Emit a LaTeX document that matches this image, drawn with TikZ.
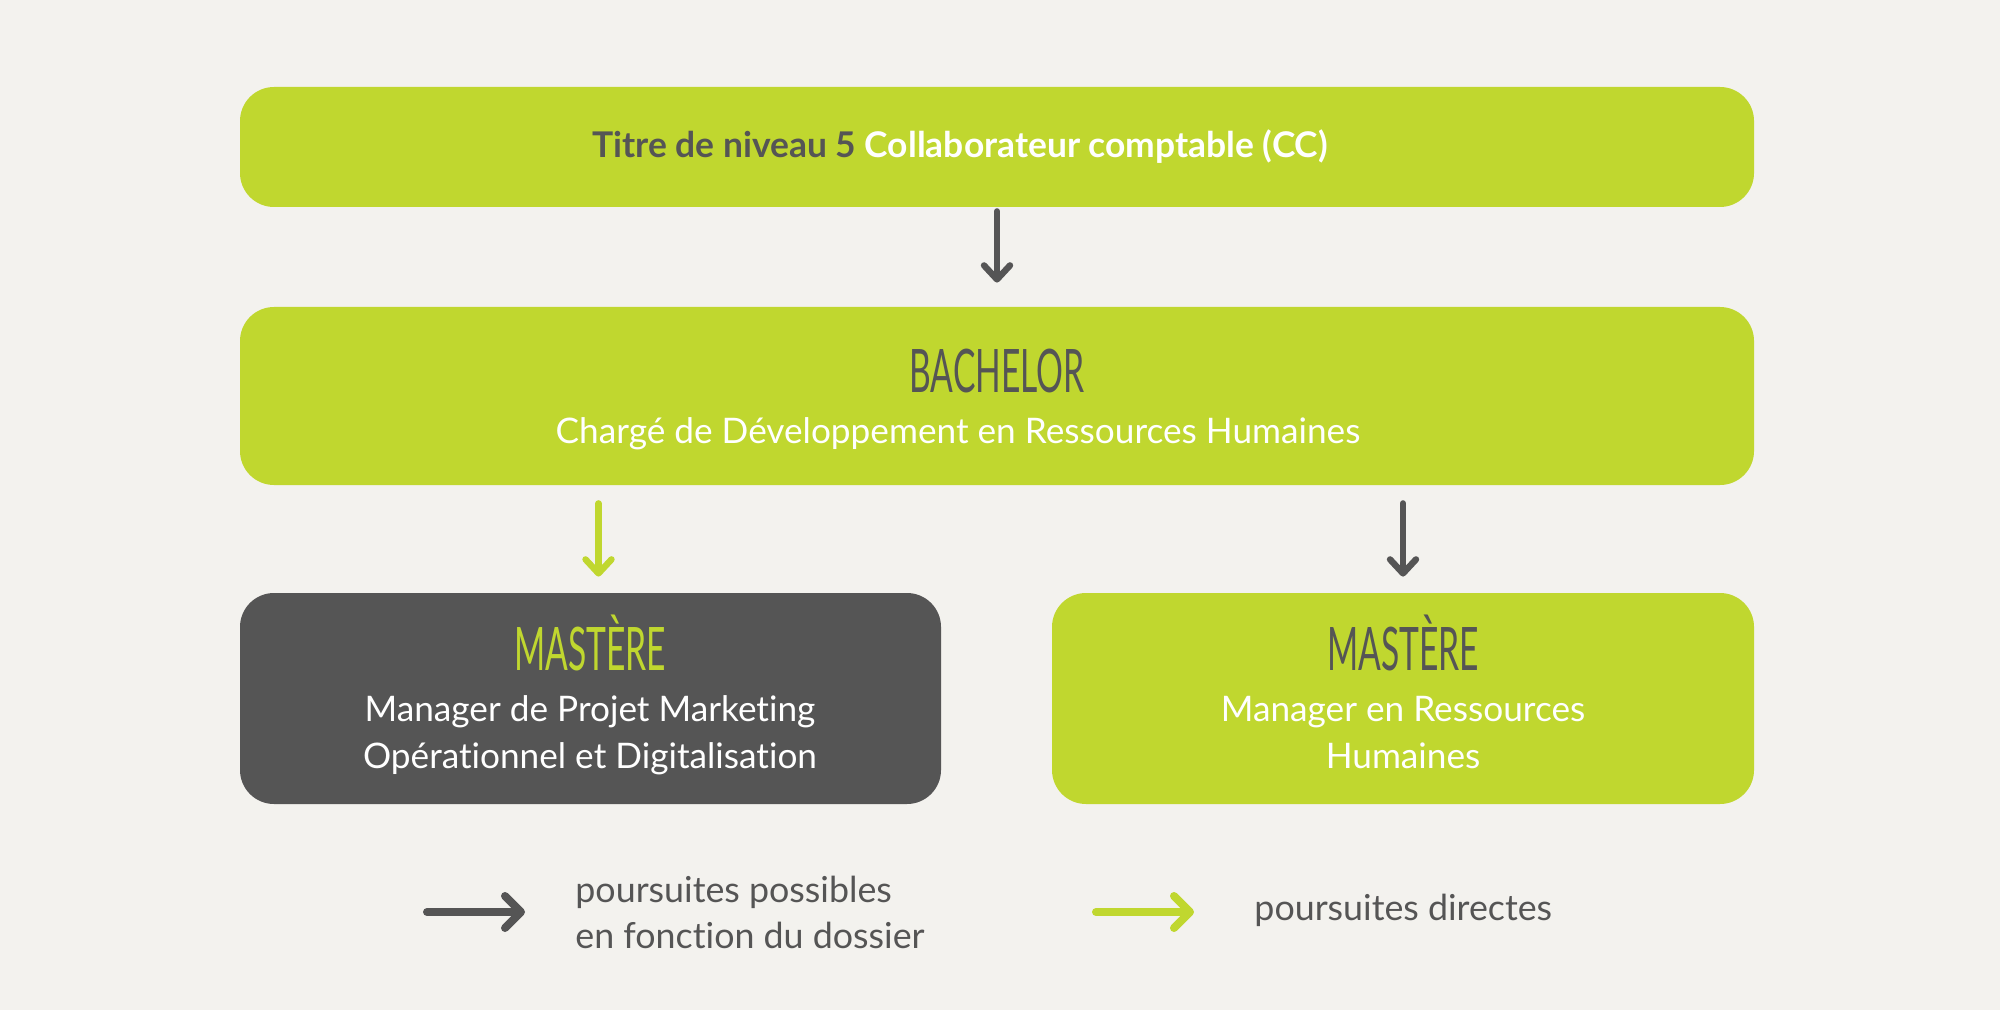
\documentclass[tikz,border=0pt]{standalone}
\usepackage{fontspec}
\setmainfont{Lato}[Ligatures=NoCommon]
\newfontfamily\condfont[FakeStretch=0.56]{Lato}
\usetikzlibrary{arrows.meta,calc}
\definecolor{bg}{HTML}{F3F2EE}
\definecolor{lime}{HTML}{C0D72F}
\definecolor{dgray}{HTML}{555555}
\tikzset{
  box/.style={rounded corners=17pt, inner sep=0pt, draw=none},
  conn/.style={line width=3.2pt, line cap=round, -{Straight Barb[round,length=7pt,width=13pt,line width=3.2pt]}},
  legarr/.style={line width=4pt, line cap=round, -{Straight Barb[round,length=8pt,width=16pt,line width=4pt]}},
  title/.style={font=\condfont\fontsize{30}{30}\selectfont, anchor=base, inner sep=0pt},
  sub/.style={font=\fontsize{17.6}{17.6}\selectfont, anchor=base, inner sep=0pt, text=white},
  legtext/.style={font=\fontsize{17.9}{17.9}\selectfont, anchor=base west, inner sep=0pt, text=dgray}
}
\begin{document}
\begin{tikzpicture}[x=0.5pt,y=-0.5pt]
\fill[bg] (0,0) rectangle (2000,1010);
\useasboundingbox (0,0) rectangle (2000,1010);
% boxes
\node[box, fill=lime, minimum width=757pt, minimum height=60pt] (top) at (997,147) {};
\node[box, fill=lime, minimum width=757pt, minimum height=89pt] (bach) at (997,396) {};
\node[box, fill=dgray, minimum width=350.5pt, minimum height=105.5pt] (lm) at (590.5,698.5) {};
\node[box, fill=lime, minimum width=351pt, minimum height=105.5pt] (rm) at (1403,698.5) {};
% texts
\node[anchor=base, inner sep=0pt, font=\bfseries\fontsize{17.7}{17.7}\selectfont] (toptext) at (960,158)
  {\textcolor{dgray}{Titre de niveau 5} \textcolor{white}{Collaborateur comptable (CC)}};
\node[title, text=dgray] (bachtitle) at (997,392) {BACHELOR};
\node[sub] (bachsub) at (958,443) {Chargé de Développement en Ressources Humaines};
\node[title, text=lime] (lmtitle) at (590,670) {MASTÈRE};
\node[sub] (lmsub1) at (590,721) {Manager de Projet Marketing};
\node[sub] (lmsub2) at (590,768) {Opérationnel et Digitalisation};
\node[title, text=dgray] (rmtitle) at (1403,670) {MASTÈRE};
\node[sub] (rmsub1) at (1403,721) {Manager en Ressources};
\node[sub] (rmsub2) at (1403,768) {Humaines};
% connectors
\draw[conn, dgray, shorten <=2pt, shorten >=12pt] (top.south) -- (bach.north);
\draw[conn, lime, shorten <=9pt, shorten >=8pt] ([xshift=4pt]bach.south -| lm.north) -- ([xshift=4pt]lm.north);
\draw[conn, dgray, shorten <=9pt, shorten >=8pt] (bach.south -| rm.north) -- (rm.north);
% legend
\coordinate (la1) at (427,912);
\coordinate (la2) at (525,912);
\coordinate (lb1) at (1096,912);
\coordinate (lb2) at (1194,912);
\draw[legarr, dgray] (la1) -- (la2);
\draw[legarr, lime] (lb1) -- (lb2);
\node[legtext] (leg1a) at (575,902) {poursuites possibles};
\node[legtext] (leg1b) at (575,948) {en fonction du dossier};
\node[legtext] (leg2) at (1254,920) {poursuites directes};
\end{tikzpicture}
\end{document}
